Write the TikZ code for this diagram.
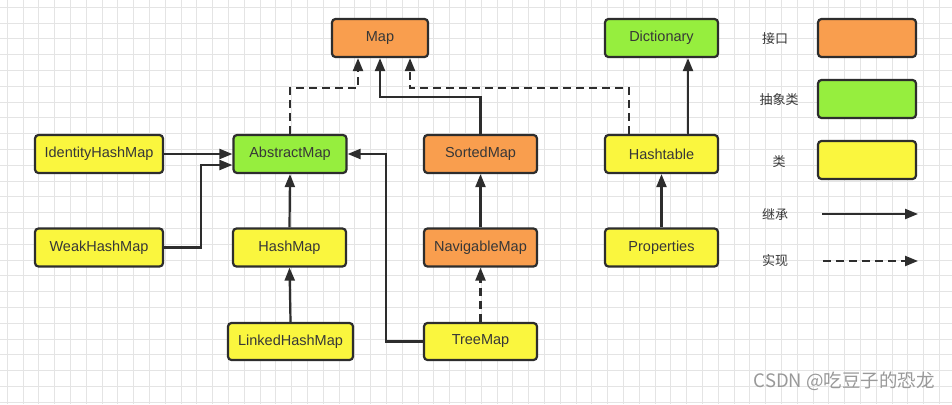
\documentclass[tikz,border=0pt]{standalone}
\usepackage{fontspec}
\setmainfont{Liberation Sans}
\newfontfamily\cjk{Noto Sans CJK SC}
\usetikzlibrary{arrows.meta}
\definecolor{ifc}{RGB}{249,158,78}
\definecolor{absc}{RGB}{150,238,62}
\definecolor{clsc}{RGB}{250,246,62}
\definecolor{edge}{RGB}{45,45,45}
\definecolor{txt}{RGB}{55,55,55}
\definecolor{gridc}{RGB}{228,228,228}
\tikzset{
  box/.style={draw=edge, line width=2.2pt, rounded corners=3.5pt, minimum height=38pt,
    inner sep=0pt, text=txt, font=\fontsize{14.5}{16}\selectfont},
  iface/.style={box, fill=ifc},
  absbox/.style={box, fill=absc},
  clsbox/.style={box, fill=clsc},
  inh/.style={draw=edge, line width=2.2pt, -{Triangle[length=13pt,width=10pt]}},
  impl/.style={inh, dash pattern=on 8pt off 5pt},
  legtxt/.style={text=txt, font=\cjk\fontsize{13}{15}\selectfont, inner sep=0pt},
}
\begin{document}
\begin{tikzpicture}[x=1pt,y=-1pt]
\useasboundingbox (0,0) rectangle (952,404);
\fill[white] (0,0) rectangle (952,404);
% grid
\foreach \i in {0,...,60} {
  \draw[gridc, line width=0.9pt] ({7.3+15.8*\i},0) -- ({7.3+15.8*\i},404);
}
\foreach \j in {0,...,25} {
  \draw[gridc, line width=0.9pt] (0,{7.3+15.8*\j}) -- (952,{7.3+15.8*\j});
}
% nodes
\node[iface, minimum width=96pt] (map) at (380,38) {Map};
\node[absbox, minimum width=113pt] (dict) at (661.5,38) {Dictionary};
\node[absbox, minimum width=113pt] (abs) at (290,154) {AbstractMap};
\node[iface, minimum width=113pt] (sorted) at (480.5,154) {SortedMap};
\node[clsbox, minimum width=113pt] (hasht) at (661.5,154) {Hashtable};
\node[clsbox, minimum width=128pt] (ident) at (99,154) {IdentityHashMap};
\node[clsbox, minimum width=128pt] (weak) at (99,247.5) {WeakHashMap};
\node[clsbox, minimum width=113pt] (hashmap) at (289.5,247.5) {HashMap};
\node[iface, minimum width=113pt] (navig) at (480.5,247.5) {NavigableMap};
\node[clsbox, minimum width=113pt] (prop) at (661.5,247.5) {Properties};
\node[clsbox, minimum width=125pt, minimum height=37pt] (linked) at (290.5,341.5) {LinkedHashMap};
\node[clsbox, minimum width=113pt, minimum height=37pt] (tree) at (480.5,341.5) {TreeMap};
% legend
\node[iface, minimum width=98pt] (lgi) at (867,38) {};
\node[absbox, minimum width=98pt] (lga) at (867,99) {};
\node[clsbox, minimum width=98pt] (lgc) at (867,160) {};
\node[legtxt] (tif) at (775,39) {接口};
\node[legtxt] (tab) at (779,100) {抽象类};
\node[legtxt] (tcl) at (779,162) {类};
\node[legtxt] (tin) at (775,214) {继承};
\node[legtxt] (tim) at (775,261) {实现};
\coordinate (li1) at (822,214);
\coordinate (li2) at (918,214);
\coordinate (lm1) at (823,261);
\coordinate (lm2) at (918,261);
\draw[inh] (li1) -- (li2);
\draw[impl] (lm1) -- (lm2);
% connectors
\draw[impl] (abs.north) |- ([xshift=-22pt,yshift=-30pt]map.south) -- ([xshift=-22pt]map.south);
\draw[inh] (sorted.north) |- ([yshift=-39pt]map.south) -- (map.south);
\draw[impl] ([xshift=-32.5pt]hasht.north) |- ([xshift=30pt,yshift=-30pt]map.south) -- ([xshift=30pt]map.south);
\draw[inh] ([xshift=26.5pt]hasht.north) -- ([xshift=26.5pt]dict.south);
\draw[inh] (prop.north) -- (hasht.south);
\draw[inh] (ident.east) -- (ident.east -| abs.west);
\draw[inh] (weak.east) -- ++(37,0) |- ([yshift=-11pt]abs.west);
\draw[inh] (hashmap.north) -- (abs.south);
\draw[inh] (linked.north) -- (hashmap.south);
\draw[inh] (tree.west) -- ++(-37,0) |- (abs.east);
\draw[impl] (tree.north) -- (navig.south);
\draw[inh] (navig.north) -- (sorted.south);
% watermark
\node[text=black!40, font=\cjk\fontsize{18.5}{20}\selectfont, anchor=east, inner sep=0pt] (wm) at (935,381) {CSDN @吃豆子的恐龙};
\end{tikzpicture}
\end{document}
